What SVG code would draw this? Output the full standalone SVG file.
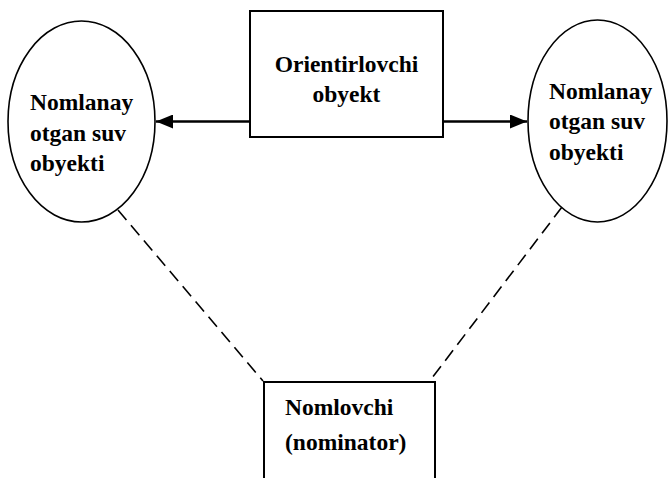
<svg xmlns="http://www.w3.org/2000/svg" width="668" height="478" viewBox="0 0 668 478">
<style>
.t{font-family:"Liberation Serif","Times New Roman",serif;font-weight:bold;font-size:23.5px;fill:#000}
.shape{fill:#fff;stroke:#000;stroke-width:1.6}
.box{fill:#fff;stroke:#000;stroke-width:2}
.arrow{stroke:#000;stroke-width:2.6;fill:none}
.dash{stroke:#000;stroke-width:1.6;fill:none;stroke-dasharray:13 7}
</style>
<defs>
<marker id="ah" markerUnits="userSpaceOnUse" markerWidth="18" markerHeight="14" refX="17" refY="7" orient="auto">
<path d="M0,0 L17,7 L0,14 Z" fill="#000"/>
</marker>
</defs>
<rect width="668" height="478" fill="#fff"/>
<g id="connectors">
<line class="dash" x1="118" y1="210" x2="263" y2="381"/>
<line class="dash" x1="562" y1="207" x2="432" y2="378"/>
<line class="arrow" x1="250" y1="121.5" x2="156" y2="121.5" marker-end="url(#ah)"/>
<line class="arrow" x1="443" y1="121.5" x2="527" y2="121.5" marker-end="url(#ah)"/>
</g>
<g id="left-object">
<ellipse class="shape" cx="81.5" cy="121.5" rx="73.5" ry="100.5"/>
<text class="t" x="30" y="110">Nomlanay</text>
<text class="t" x="30" y="141">otgan suv</text>
<text class="t" x="30" y="171">obyekti</text>
</g>
<g id="orienting-object">
<rect class="box" x="250" y="11" width="193" height="126"/>
<text class="t" x="346.5" y="72" text-anchor="middle">Orientirlovchi</text>
<text class="t" x="346.5" y="102" text-anchor="middle">obyekt</text>
</g>
<g id="right-object">
<ellipse class="shape" cx="597.5" cy="121" rx="69.5" ry="101"/>
<text class="t" x="549" y="99">Nomlanay</text>
<text class="t" x="549" y="129">otgan suv</text>
<text class="t" x="549" y="160">obyekti</text>
</g>
<g id="nominator">
<path class="box" d="M264,480 L264,382 L435,382 L435,480"/>
<text class="t" x="285" y="415">Nomlovchi</text>
<text class="t" x="285" y="450">(nominator)</text>
</g>
</svg>
